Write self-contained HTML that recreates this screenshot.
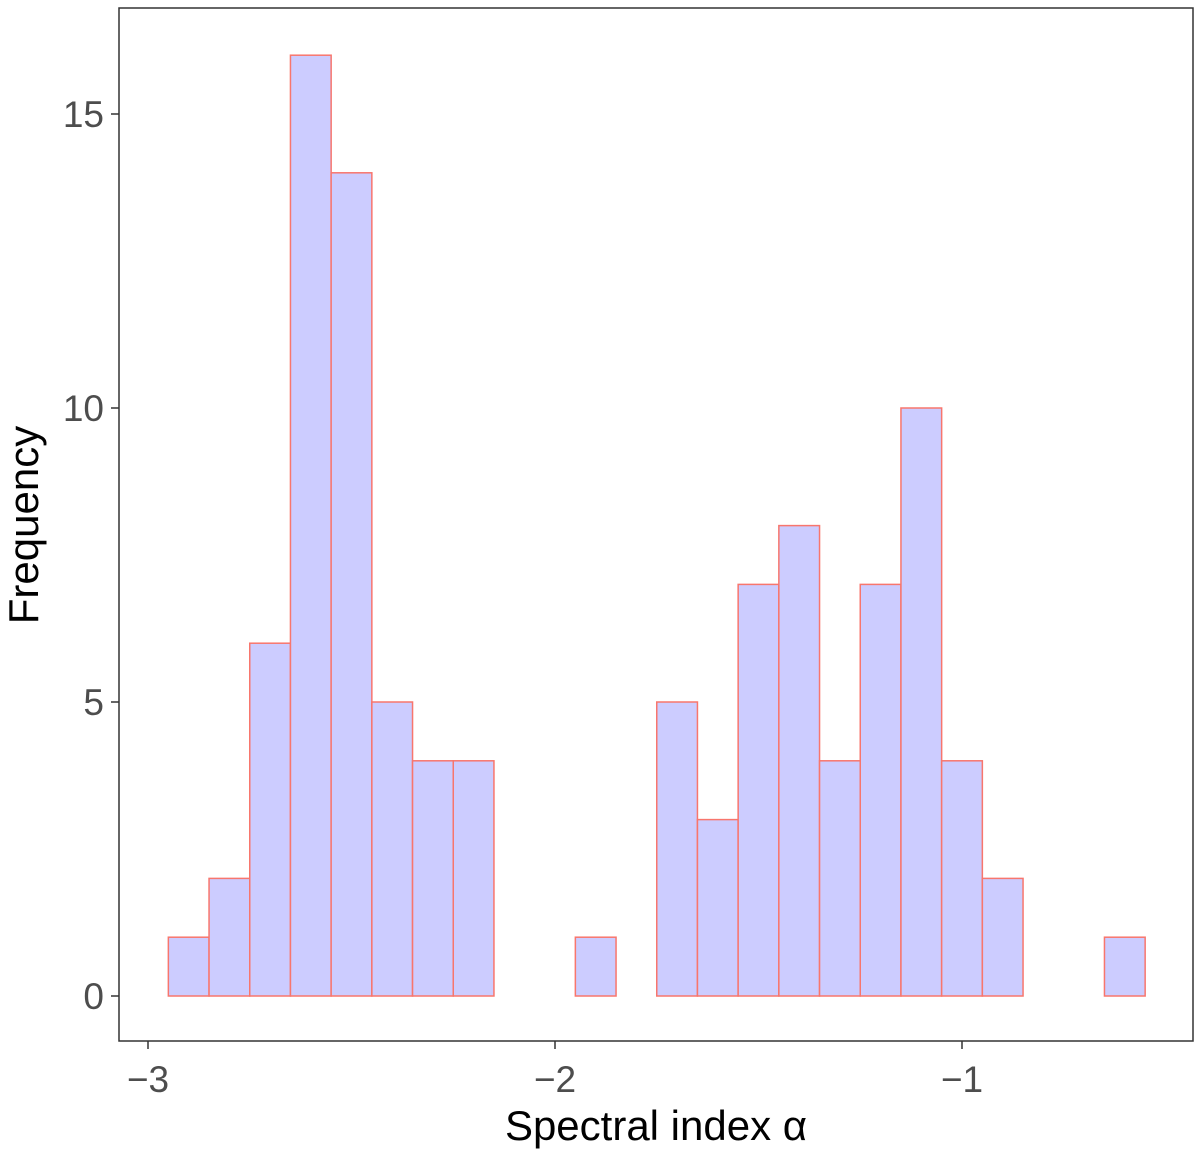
<!DOCTYPE html>
<html><head><meta charset="utf-8"><style>
html,body{margin:0;padding:0;background:#fff;}
svg{display:block;font-family:"Liberation Sans",Arial,sans-serif;}
</style></head><body>
<svg id="chart" width="1200" height="1160">
<rect x="119" y="8" width="1074" height="1033" fill="#fff" stroke="#333" stroke-width="1.5"/>
<g id="bars"></g>
<g id="xaxis"></g>
<g id="yaxis"></g>
<text x="656" y="1140" text-anchor="middle" font-size="42" fill="#000">Spectral index α</text>
<text transform="translate(38,525) rotate(-90)" text-anchor="middle" font-size="42" fill="#000">Frequency</text>
</svg>
<script>
const binStart = -2.95;
const binWidth = 0.1;
const counts = [1,2,6,16,14,5,4,4,0,0,1,0,5,3,7,8,4,7,10,4,2,0,0,1];
const xTicks = [-3,-2,-1];
const xTickLabels = ["\u22123","\u22122","\u22121"];
const yTicks = [0,5,10,15];
const yTickLabels = ["0","5","10","15"];

function xs(v){return 148 + (v + 3) * 407;}
function ys(v){return 996 - v * 58.8;}
const NS = "http://www.w3.org/2000/svg";
const bars = document.getElementById('bars');
counts.forEach((c,i)=>{
  const x0 = xs(binStart + i*binWidth), x1 = xs(binStart + (i+1)*binWidth);
  const r = document.createElementNS(NS,'rect');
  r.setAttribute('x', x0); r.setAttribute('width', x1-x0);
  r.setAttribute('y', ys(c)); r.setAttribute('height', Math.max(ys(0)-ys(c),0));
  r.setAttribute('fill', c>0 ? '#ccccff' : 'none');
  r.setAttribute('stroke', c>0 ? '#f8766d' : '#ffc0c0');
  r.setAttribute('stroke-width', '1.5');
  
  
  bars.appendChild(r);
});
const xa = document.getElementById('xaxis');
xTicks.forEach((t,i)=>{
  const l = document.createElementNS(NS,'line');
  l.setAttribute('x1', xs(t)); l.setAttribute('x2', xs(t));
  l.setAttribute('y1', 1041); l.setAttribute('y2', 1049);
  l.setAttribute('stroke', '#333'); l.setAttribute('stroke-width', '1.5');
  
  
  xa.appendChild(l);
  const tx = document.createElementNS(NS,'text');
  tx.setAttribute('x', xs(t)); tx.setAttribute('y', 1092);
  tx.setAttribute('text-anchor', 'middle'); tx.setAttribute('font-size', '37'); tx.setAttribute('fill', '#4d4d4d');
  tx.textContent = xTickLabels[i];
  
  
  xa.appendChild(tx);
});
const ya = document.getElementById('yaxis');
yTicks.forEach((t,i)=>{
  const l = document.createElementNS(NS,'line');
  l.setAttribute('x1', 111); l.setAttribute('x2', 119);
  l.setAttribute('y1', ys(t)); l.setAttribute('y2', ys(t));
  l.setAttribute('stroke', '#333'); l.setAttribute('stroke-width', '1.5');
  
  
  ya.appendChild(l);
  const tx = document.createElementNS(NS,'text');
  tx.setAttribute('x', 104); tx.setAttribute('y', ys(t)+13);
  tx.setAttribute('text-anchor', 'end'); tx.setAttribute('font-size', '37'); tx.setAttribute('fill', '#4d4d4d');
  tx.textContent = yTickLabels[i];
  
  
  ya.appendChild(tx);
});
</script>
</body></html>
